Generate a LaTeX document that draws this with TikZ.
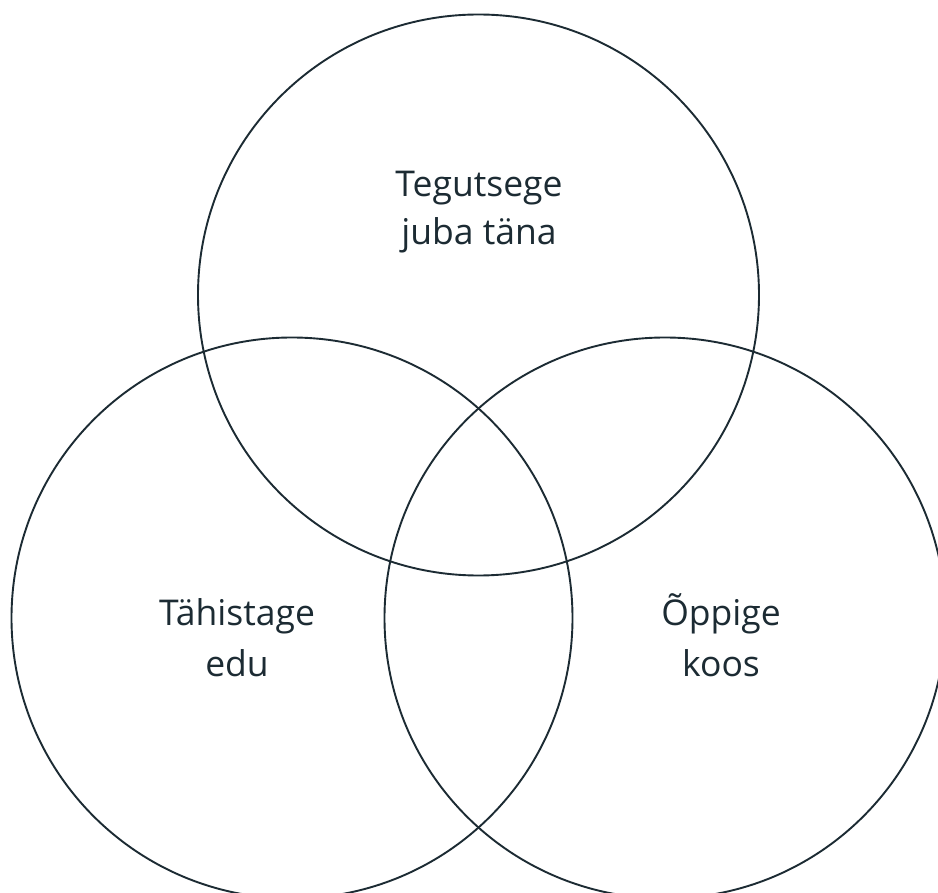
\documentclass[tikz,border=0pt]{standalone}
\usepackage{fontspec}
\setmainfont{Open Sans}
\definecolor{ink}{HTML}{1C2B33}
\begin{document}
\begin{tikzpicture}[x=1pt,y=-1pt,
  ring/.style={circle,draw=ink,line width=1.9pt,minimum size=561pt,inner sep=0pt},
  lbl/.style={anchor=base,text=ink,inner sep=0pt,font=\fontsize{35.5}{40}\selectfont}]
\useasboundingbox (0,0) rectangle (938,893);
\fill[white] (0,0) rectangle (938,893);
\clip (0,0) rectangle (938,893);
\node[ring] (top) at (478.5,295) {};
\node[ring] (left) at (292,618) {};
\node[ring] (right) at (665,618) {};
\node[lbl] (t1) at (479,197) {Tegutsege};
\node[lbl] (t2) at (479,245) {juba täna};
\node[lbl] (l1) at (237,625) {Tähistage};
\node[lbl] (l2) at (237,676) {edu};
\node[lbl] (r1) at (721,625) {Õppige};
\node[lbl] (r2) at (721,676) {koos};
\end{tikzpicture}
\end{document}
